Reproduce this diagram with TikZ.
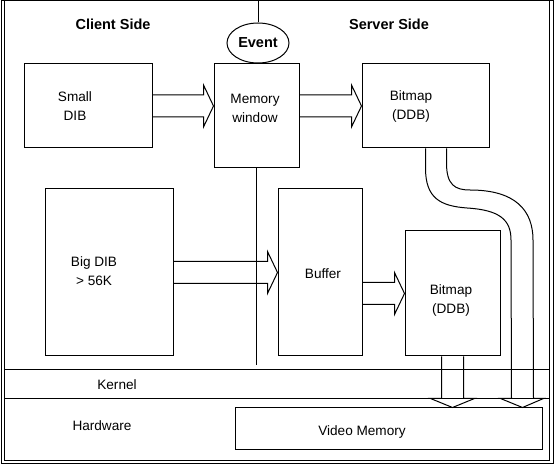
\documentclass[tikz,border=0pt]{standalone}
\usepackage{fontspec}
\setmainfont{Liberation Sans}
\usetikzlibrary{calc,shapes.geometric}

% hollow block arrows, #1 tail and #2 tip
\newcommand{\hollowright}[2]{%
  \draw ($(#1)+(0,-11)$) -- ($(#2)+(-10,-11)$) -- ($(#2)+(-10,-21)$) -- (#2)
    -- ($(#2)+(-10,21)$) -- ($(#2)+(-10,11)$) -- ($(#1)+(0,11)$);}
\newcommand{\hollowdown}[2]{%
  \draw ($(#1)+(-11,0)$) -- ($(#2)+(-11,-9)$) -- ($(#2)+(-22,-9)$) -- (#2)
    -- ($(#2)+(22,-9)$) -- ($(#2)+(11,-9)$) -- ($(#1)+(11,0)$);}

\begin{document}
\begin{tikzpicture}[
        x=1pt,y=-1pt,
        line width=1pt,
        font=\fontsize{13.6}{19}\selectfont,
        box/.style={draw, inner sep=0pt},
        lbl/.style={align=center, inner sep=0pt},
        side/.style={inner sep=0pt, font=\fontsize{14.5}{17}\selectfont\bfseries},
        ]
        \useasboundingbox (0,0) rectangle (555,465);
        % frame and layers
        \draw (1,1) rectangle (553,463);
        \draw (4,1) rectangle (549,460);
        \draw (4,370) -- (549,370);
        \draw (4,399) -- (549,399);
        \node[lbl] (kernel) at (117,385){Kernel};
        \node[lbl] (hardware) at (102,426){Hardware};
        \node[side] (client) at (113,24){Client Side};
        \node[side] (server) at (389,24){Server Side};
        % boxes
        \node[box, minimum width=128, minimum height=84] (small) at (88,106){};
        \node[box, minimum width=85, minimum height=104] (mem) at (256.5,116){};
        \node[box, minimum width=127, minimum height=84] (bmp1) at (425.5,106){};
        \node[box, minimum width=128, minimum height=167] (big) at (109,272.5){};
        \node[box, minimum width=84, minimum height=167] (buf) at (320,272.5){};
        \node[box, minimum width=95, minimum height=125] (bmp2) at (452.5,293.5){};
        \node[box, minimum width=307, minimum height=42] (vid) at (388.5,429){};
        \node[draw, ellipse, minimum width=62, minimum height=40, inner sep=0pt,
              font=\fontsize{14.5}{17}\selectfont\bfseries] (event) at (258,43){Event};
        % texts
        \node[lbl] (smalltxt) at (75,106){Small\\DIB};
        \node[lbl] (memtxt) at (255,108){Memory\\window};
        \node[lbl] (bmp1txt) at (411,106){Bitmap\\(DDB)};
        \node[lbl] (bigtxt) at (94,271){Big DIB\\> 56K};
        \node[lbl] (buftxt) at (323,274){Buffer};
        \node[lbl] (bmp2txt) at (451,300){Bitmap\\(DDB)};
        \node[lbl] (vidtxt) at (362,432){Video Memory};
        % client / server split
        \coordinate (top) at (256,1);
        \coordinate (midend) at (256.5,365);
        \draw (event.north) -- (event.north |- top);
        \draw (mem.south) -- (midend);
        % arrows
        \coordinate (t1) at (small.east -| mem.west);
        \coordinate (s2) at (mem.east |- bmp1.west);
        \coordinate (t3) at (big.east -| buf.west);
        \coordinate (s4) at (buf.east |- bmp2.west);
        \coordinate (t5) at (bmp2.south |- vid.north);
        \coordinate (vtip) at ($(vid.north east)+(-20,0)$);
        \hollowright{small.east}{t1}
        \hollowright{s2}{bmp1.west}
        \hollowright{big.east}{t3}
        \hollowright{s4}{bmp2.west}
        \hollowdown{bmp2.south}{t5}
        \draw (bmp1.south) -- (425.5,168) .. controls (425.5,198) and (440,206) .. (467,208)
          .. controls (500,210) and (511,220) .. (511,240) -- ($(vtip)+(-11,-9)$)
          -- ($(vtip)+(-22,-9)$) -- (vtip) -- ($(vtip)+(21,-9)$) -- ($(vtip)+(11,-9)$)
          -- (533,240) .. controls (533,210) and (515,190) .. (470,190)
          .. controls (455,190) and (446.5,185) .. (446.5,163) -- ($(bmp1.south)+(21,0)$);
\end{tikzpicture}
\end{document}
